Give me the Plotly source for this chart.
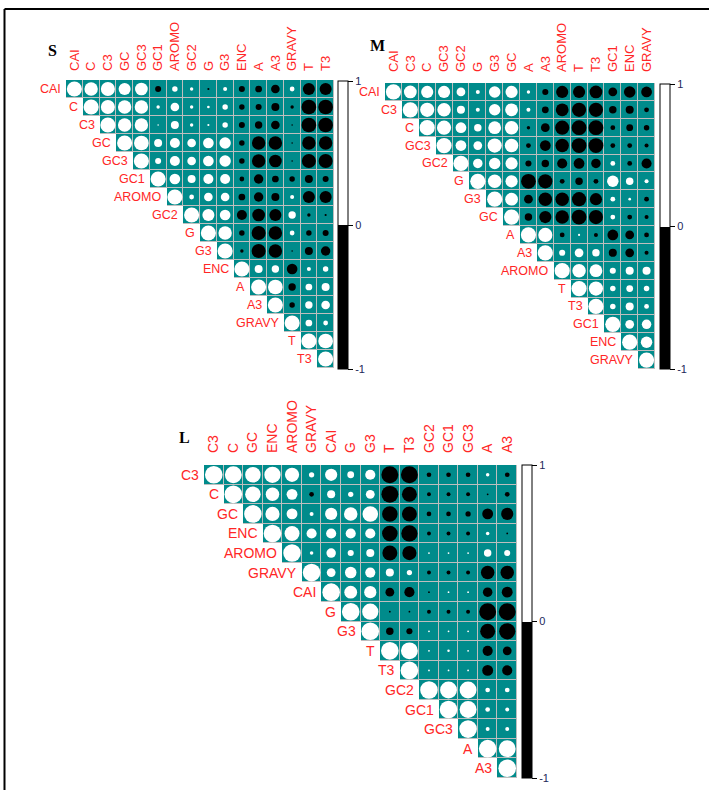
import numpy as np
import plotly.graph_objects as go

# ---------------------------------------------------------------------------
# Correlation data (upper triangle, row by row, diagonal omitted = 1)
# ---------------------------------------------------------------------------
S_VARS = ["CAI", "C", "C3", "GC", "GC3", "GC1", "AROMO", "GC2", "G", "G3",
          "ENC", "A", "A3", "GRAVY", "T", "T3"]
S_ROWS = [
    [0.79, 0.87, 0.64, 0.71, -0.16, 0.13, 0.05, -0.02, 0.07, -0.16, -0.20, -0.33, 0.10, -0.64, -0.64],
    [0.87, 0.79, 0.79, 0.05, 0.33, 0.05, 0.03, 0.13, -0.13, -0.16, -0.28, -0.05, -0.95, -0.95],
    [0.79, 0.79, 0.01, 0.28, 0.05, 0.02, 0.13, -0.16, -0.24, -0.33, -0.01, -0.95, -0.95],
    [0.95, 0.28, 0.44, 0.33, 0.50, 0.57, -0.13, -0.79, -0.79, -0.01, -0.79, -0.79],
    [0.16, 0.44, 0.33, 0.50, 0.57, -0.13, -0.79, -0.71, -0.01, -0.87, -0.87],
    [0.50, 0.28, 0.44, 0.44, -0.10, -0.39, -0.20, -0.13, -0.28, -0.16],
    [0.10, 0.33, 0.33, -0.20, -0.39, -0.28, 0.07, -0.64, -0.64],
    [0.64, 0.50, -0.44, -0.71, -0.64, 0.24, -0.05, -0.02],
    [0.79, -0.13, -0.87, -0.79, 0.10, -0.13, -0.16],
    [-0.05, -0.87, -0.79, -0.01, -0.28, -0.39],
    [0.28, 0.24, -0.50, 0.07, 0.13],
    [0.95, -0.24, 0.20, 0.28],
    [-0.13, 0.24, 0.33],
    [0.20, 0.10],
    [0.95],
    [],
]

M_VARS = ["CAI", "C3", "C", "GC3", "GC2", "G", "G3", "GC", "A", "A3",
          "AROMO", "T", "T3", "GC1", "ENC", "GRAVY"]
M_ROWS = [
    [0.71, 0.64, 0.64, 0.33, 0.07, 0.57, 0.64, 0.05, -0.16, -0.64, -0.64, -0.71, -0.33, -0.57, -0.50],
    [0.87, 0.79, 0.28, 0.07, 0.57, 0.71, 0.07, -0.20, -0.71, -0.87, -0.87, -0.24, -0.28, -0.10],
    [0.87, 0.50, 0.24, 0.71, 0.79, -0.05, -0.33, -0.87, -0.95, -0.95, -0.10, -0.20, -0.13],
    [0.50, 0.33, 0.87, 0.79, -0.10, -0.50, -0.79, -0.95, -0.95, -0.10, -0.10, -0.07],
    [0.39, 0.57, 0.64, -0.16, -0.24, -0.44, -0.50, -0.39, 0.10, -0.10, -0.44],
    [0.79, 0.64, -0.95, -0.87, -0.10, -0.24, -0.10, 0.57, 0.24, 0.07],
    [0.71, -0.33, -0.79, -0.79, -0.87, -0.64, 0.10, 0.03, -0.10],
    [-0.24, -0.64, -0.79, -0.95, -0.87, 0.10, -0.10, -0.07],
    [0.87, -0.10, 0.02, -0.07, -0.50, -0.33, -0.10],
    [0.16, 0.33, 0.24, -0.28, -0.33, -0.07],
    [0.79, 0.71, 0.16, 0.28, 0.28],
    [0.87, 0.13, 0.20, 0.13],
    [0.13, 0.28, 0.10],
    [0.33, 0.39],
    [0.57],
    [],
]

L_VARS = ["C3", "C", "GC", "ENC", "AROMO", "GRAVY", "CAI", "G", "G3", "T",
          "T3", "GC2", "GC1", "GC3", "A", "A3"]
L_ROWS = [
    [0.92, 0.78, 0.85, 0.65, 0.09, 0.48, 0.15, 0.33, -0.92, -0.92, -0.07, -0.07, -0.07, 0.04, -0.07],
    [0.78, 0.59, 0.38, -0.07, 0.21, 0.09, 0.25, -0.92, -0.72, -0.05, -0.05, -0.05, -0.01, -0.07],
    [0.65, 0.38, 0.05, 0.48, 0.59, 0.78, -0.78, -0.72, -0.07, -0.07, -0.09, -0.38, -0.48],
    [0.72, 0.33, 0.33, 0.33, 0.33, -0.78, -0.85, -0.05, -0.05, -0.05, 0.04, -0.01],
    [0.04, 0.29, 0.12, 0.21, -0.72, -0.65, 0.01, 0.01, 0.01, 0.18, 0.12],
    [0.25, 0.43, 0.33, 0.21, 0.09, -0.05, -0.05, -0.05, -0.59, -0.59],
    [0.53, 0.48, -0.25, -0.33, -0.01, 0.01, 0.01, -0.29, -0.38],
    [0.85, -0.01, -0.01, -0.05, -0.05, -0.05, -0.92, -0.92],
    [-0.18, -0.12, 0.01, 0.01, 0.01, -0.72, -0.85],
    [0.92, 0.01, 0.02, 0.01, -0.33, -0.25],
    [0.01, 0.01, 0.01, -0.38, -0.33],
    [0.92, 0.92, 0.07, 0.07],
    [0.92, 0.07, 0.05],
    [0.05, 0.05],
    [0.92],
    [],
]

CBAR_TICKS = [-1, 0, 1]

# ---------------------------------------------------------------------------
# Styling / layout
# ---------------------------------------------------------------------------
W, H = 709, 790
TEAL = "#008B8B"
GRID = "#BEBEBE"
RED = "#FF2626"
TICK_BLUE = "#22285A"
SANS = "Liberation Sans, Arial, sans-serif"
SERIF = "Liberation Serif, Times New Roman, serif"
BINARY = [[0.0, "black"], [0.5, "black"], [0.5, "white"], [1.0, "white"]]

panels = [
    dict(title="S", names=S_VARS, rows=S_ROWS, box=(66, 80, 334, 368),
         cbar=(338, 81, 369), title_xy=(52, 50), fs_col=13, fs_row=12.5,
         standoff=8),
    dict(title="M", names=M_VARS, rows=M_ROWS, box=(385, 83, 655, 369),
         cbar=(660, 84, 369), title_xy=(378, 46), fs_col=13, fs_row=12.5,
         standoff=10),
    dict(title="L", names=L_VARS, rows=L_ROWS, box=(204, 465, 517, 778),
         cbar=(522, 465, 778), title_xy=(184, 438), fs_col=14, fs_row=14,
         standoff=11),
]


def full_matrix(rows):
    n = len(rows)
    m = np.eye(n)
    for i, r in enumerate(rows):
        m[i, i + 1:] = r
    return m


fig = go.Figure()
annotations = []
layout_axes = {}

for k, p in enumerate(panels):
    sfx = "" if k == 0 else str(k + 1)
    xa, ya = "x" + sfx, "y" + sfx
    names = p["names"]
    n = len(names)
    mat = full_matrix(p["rows"])
    x0, y0, x1, y1 = p["box"]
    cw, ch = (x1 - x0) / n, (y1 - y0) / n
    diam = 0.9 * min(cw, ch)

    ii, jj = np.triu_indices(n)
    upper = np.full((n, n), np.nan)
    upper[ii, jj] = 1.0

    # grid colour underneath, teal cells on top with 1px gaps
    fig.add_trace(go.Heatmap(z=upper, x=list(range(n)), y=list(range(n)),
                             colorscale=[[0, GRID], [1, GRID]], showscale=False,
                             hoverinfo="skip", xaxis=xa, yaxis=ya))
    fig.add_trace(go.Heatmap(z=upper, x=list(range(n)), y=list(range(n)),
                             colorscale=[[0, TEAL], [1, TEAL]], showscale=False,
                             xgap=1, ygap=1, hoverinfo="skip", xaxis=xa, yaxis=ya))

    vals = mat[ii, jj]
    cb_x, cb_top, cb_bot = p["cbar"]
    fig.add_trace(go.Scatter(
        x=jj, y=ii, mode="markers", xaxis=xa, yaxis=ya, hoverinfo="skip",
        marker=dict(
            size=diam * np.sqrt(np.abs(vals)), color=vals, cmin=-1, cmax=1,
            colorscale=BINARY, line=dict(width=0), opacity=1,
            showscale=True,
            colorbar=dict(
                x=cb_x / W, xanchor="left", y=1 - (cb_top + cb_bot) / 2 / H,
                yanchor="middle", len=cb_bot - cb_top, lenmode="pixels",
                thickness=10, thicknessmode="pixels", xpad=0, ypad=0,
                outlinecolor="black", outlinewidth=1,
                tickvals=CBAR_TICKS, ticktext=[str(t) for t in CBAR_TICKS],
                ticks="outside", ticklen=5, tickcolor="black", tickwidth=1,
                tickfont=dict(family=SANS, size=11, color=TICK_BLUE),
            ),
        ),
    ))

    layout_axes["xaxis" + sfx] = dict(
        domain=[x0 / W, x1 / W], range=[-0.5, n - 0.5], anchor=ya,
        side="top", tickmode="array", tickvals=list(range(n)), ticktext=names,
        tickangle=-90, tickfont=dict(family=SANS, size=p["fs_col"], color=RED),
        ticks="", ticklabelstandoff=p["standoff"], showgrid=False,
        zeroline=False, showline=False, fixedrange=True)
    layout_axes["yaxis" + sfx] = dict(
        domain=[1 - y1 / H, 1 - y0 / H], range=[n - 0.5, -0.5], anchor=xa,
        showticklabels=False, ticks="", showgrid=False, zeroline=False,
        showline=False, fixedrange=True)

    # row labels sit just left of each diagonal cell
    for i, name in enumerate(names):
        annotations.append(dict(
            x=i - 0.5, y=i, xref=xa, yref=ya, text=name, showarrow=False,
            xanchor="right", yanchor="middle", xshift=-3,
            font=dict(family=SANS, size=p["fs_row"], color=RED)))

    tx, ty = p["title_xy"]
    annotations.append(dict(
        x=tx / W, y=1 - ty / H, xref="paper", yref="paper",
        text="<b>%s</b>" % p["title"], showarrow=False,
        xanchor="center", yanchor="middle",
        font=dict(family=SERIF, size=16, color="black")))

# frame lines along the top and left edge
shapes = [
    dict(type="line", xref="paper", yref="paper", x0=4.5 / W, x1=1,
         y0=1 - 9 / H, y1=1 - 9 / H, line=dict(color="black", width=2)),
    dict(type="line", xref="paper", yref="paper", x0=4.5 / W, x1=4.5 / W,
         y0=1 - 9 / H, y1=0, line=dict(color="black", width=2)),
]

fig.update_layout(
    width=W, height=H, margin=dict(l=0, r=0, t=0, b=0),
    paper_bgcolor="white", plot_bgcolor="rgba(0,0,0,0)",
    showlegend=False, annotations=annotations, shapes=shapes,
    **layout_axes,
)

fig.write_html("out.html")
